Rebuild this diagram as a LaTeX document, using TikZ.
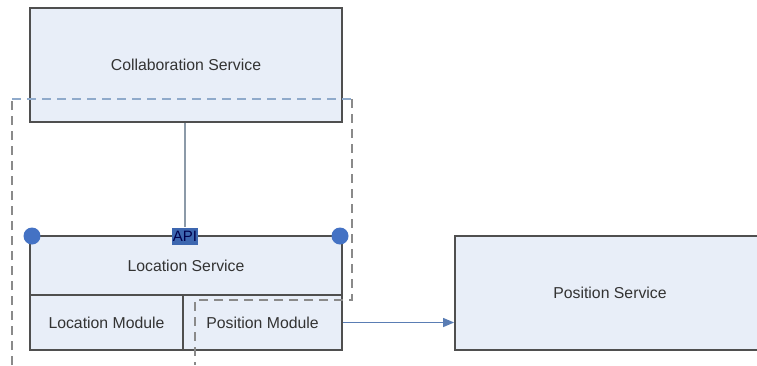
\documentclass[tikz,border=0pt]{standalone}
\usepackage{fontspec}
\setmainfont{Liberation Sans}
\usetikzlibrary{arrows.meta}
\definecolor{boxfill}{HTML}{E8EEF8}
\definecolor{boxline}{HTML}{4F4F4F}
\definecolor{txt}{HTML}{333333}
\definecolor{dashblue}{HTML}{8FAACB}
\definecolor{dashgray}{HTML}{8A8A8A}
\definecolor{portblue}{HTML}{4472C4}
\definecolor{linkgray}{HTML}{8C9AA8}
\definecolor{arrowblue}{HTML}{5A7DB4}
\tikzset{
  svc/.style={draw=boxline, line width=1.8pt, fill=boxfill, inner sep=0pt,
              font=\fontsize{15.8}{18}\selectfont, text=txt},
  port/.style={circle, fill=portblue, inner sep=0pt, minimum size=17pt},
  apibox/.style={fill=portblue!90!black, inner sep=0pt, minimum width=26pt,
                 minimum height=17pt, text=black!70!blue,
                 font=\fontsize{15}{16}\selectfont},
  bound/.style={dashed, dash pattern=on 9pt off 6pt, line width=1.2pt}
}
\begin{document}
\begin{tikzpicture}[x=1pt,y=-1pt]
\useasboundingbox (0,0) rectangle (757,365);
\fill[white] (0,0) rectangle (757,365);

% services
\node[svc, minimum width=312pt, minimum height=114pt] (collab) at (186,65) {Collaboration Service};
\node[svc, minimum width=312pt, minimum height=59pt] (locsvc) at (186,265.5) {};
\node[txt, font=\fontsize{15.8}{18}\selectfont] (loclbl) at (186,266) {Location Service};
\node[svc, minimum width=153pt, minimum height=55pt] (locmod) at (106.5,322.5) {Location Module};
\node[svc, minimum width=159pt, minimum height=55pt] (posmod) at (262.5,322.5) {Position Module};
\node[svc, minimum width=360pt, minimum height=114pt] (possvc) at (635,293) {};
\node[txt, font=\fontsize{15.8}{18}\selectfont] (poslbl) at (610,293) {Position Service};

% component boundary
\draw[bound, draw=dashgray] (12,365) -- (12,99);
\draw[bound, draw=dashblue] (12,99) -- (352,99);
\draw[bound, draw=dashgray] (352,99) -- (352,300) -- (195,300) -- (195,365);

% interface line with end ports
\coordinate (pl) at (32,236);
\coordinate (pr) at (340,236);
\draw[boxline, line width=1.8pt] (pl) -- (pr);
\node[port] (portl) at (pl) {};
\node[port] (portr) at (pr) {};
\node[apibox] (api) at (185,236) {API};
\draw[linkgray, line width=1.4pt] (collab.south -| api.north) -- (api.north);

% call to position service
\draw[arrowblue, line width=1.2pt, -{Triangle[length=11pt,width=9pt]}] (posmod.east) -- (posmod.east -| possvc.west);
\end{tikzpicture}
\end{document}
